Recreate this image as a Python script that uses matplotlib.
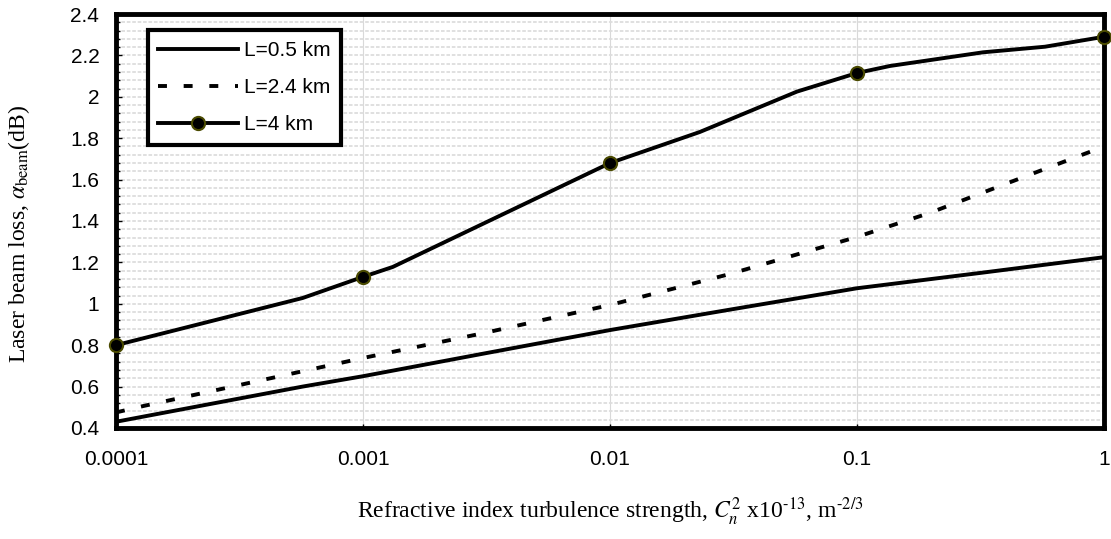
import matplotlib
matplotlib.use('Agg')
import matplotlib.pyplot as plt
from matplotlib.ticker import FixedLocator, MultipleLocator, NullLocator

plt.rcParams['mathtext.fontset'] = 'stix'
plt.rcParams['font.family'] = 'Liberation Sans'
plt.rcParams['font.size'] = 15

# turbulence strength sample points (Cn^2 x1e-13)
cn2_a = [1e-4, 5.7e-4, 1e-3, 3.1e-3, 1e-2, 3.0e-2, 1e-1, 3.2e-1, 1.0]
loss_05 = [0.43, 0.60, 0.65, 0.76, 0.873, 0.97, 1.075, 1.15, 1.225]

cn2_b = [1e-4, 1.29e-4, 6.0e-4, 1e-3, 3.1e-3, 1e-2, 3.06e-2, 1e-1, 1.97e-1, 3.7e-1, 1.0]
loss_24 = [0.475, 0.506, 0.68, 0.738, 0.859, 0.994, 1.144, 1.323, 1.439, 1.564, 1.76]

cn2_c = [1e-4, 5.7e-4, 1e-3, 1.32e-3, 5.46e-3, 1e-2, 2.31e-2, 5.71e-2, 1e-1,
         1.36e-1, 3.24e-1, 5.77e-1, 1.0]
loss_4 = [0.80, 1.028, 1.13, 1.178, 1.53, 1.68, 1.83, 2.025, 2.115,
          2.149, 2.215, 2.242, 2.29]
cn2_marks = [1e-4, 1e-3, 1e-2, 1e-1, 1.0]
loss_4_marks = [0.80, 1.13, 1.68, 2.115, 2.29]

xtick_vals = [1e-4, 1e-3, 1e-2, 1e-1, 1]
xtick_text = ['0.0001', '0.001', '0.01', '0.1', '1']
ytick_vals = [0.4, 0.6, 0.8, 1.0, 1.2, 1.4, 1.6, 1.8, 2.0, 2.2, 2.4]
ytick_text = ['0.4', '0.6', '0.8', '1', '1.2', '1.4', '1.6', '1.8', '2', '2.2', '2.4']

fig = plt.figure(figsize=(11.11, 5.39), dpi=100)
ax = fig.add_axes([0.1044, 0.206, 0.8893, 0.768])

lw = 2.8
ax.plot(cn2_a, loss_05, color='black', lw=lw, label='L=0.5 km', zorder=3)
ax.plot(cn2_b, loss_24, color='black', lw=lw, dashes=(2.3, 4.3),
        label='L=2.4 km', zorder=3)
ax.plot(cn2_c, loss_4, color='black', lw=lw, zorder=3)
ax.plot(cn2_marks, loss_4_marks, ls='none', marker='o', ms=9.5,
        mfc='black', mec='#4a4a00', mew=1.5, zorder=4, clip_on=False)
# proxy for the legend entry with a marker
ax.plot([], [], color='black', lw=lw, marker='o', ms=9.5, mfc='black',
        mec='#4a4a00', mew=1.5, label='L=4 km')

ax.set_xscale('log')
ax.set_xlim(1e-4, 1)
ax.set_ylim(0.4, 2.4)

ax.xaxis.set_major_locator(FixedLocator(xtick_vals))
ax.xaxis.set_minor_locator(NullLocator())
ax.set_xticklabels(xtick_text)
ax.yaxis.set_major_locator(FixedLocator(ytick_vals))
ax.yaxis.set_minor_locator(MultipleLocator(0.04))
ax.set_yticklabels(ytick_text)

ax.grid(which='major', axis='x', color='#d9d9d9', lw=0.8)
ax.grid(which='both', axis='y', color='#dddddd', lw=1.3, ls=(0, (2, 1)))
ax.set_axisbelow(True)

for s in ax.spines.values():
    s.set_linewidth(3.5)

ax.tick_params(axis='x', which='major', direction='in', length=3, width=1,
               pad=16)
ax.tick_params(axis='y', which='major', direction='in', length=4, width=1,
               pad=12)
ax.tick_params(axis='y', which='minor', direction='in', length=3, width=1)

ax.set_ylabel(r'Laser beam loss, $\alpha_{\mathrm{beam}}$(dB)',
              family='Liberation Serif', fontsize=17)
ax.yaxis.set_label_coords(-0.085, 0.47)
ax.set_xlabel(r'Refractive index turbulence strength, $C_n^2$ x10$^{\text{-13}}$, m$^{\text{-2/3}}$',
              family='Liberation Serif', fontsize=17, labelpad=19)

leg = ax.legend(loc='upper left', bbox_to_anchor=(0.032, 0.961),
                borderaxespad=0, fancybox=False, framealpha=1,
                edgecolor='black', handlelength=3.8, handletextpad=0.29,
                labelspacing=0.875, borderpad=0.52,
                prop={'family': 'Liberation Sans', 'size': 15})
leg.get_frame().set_linewidth(3)

fig.savefig('out.png', dpi=100)
